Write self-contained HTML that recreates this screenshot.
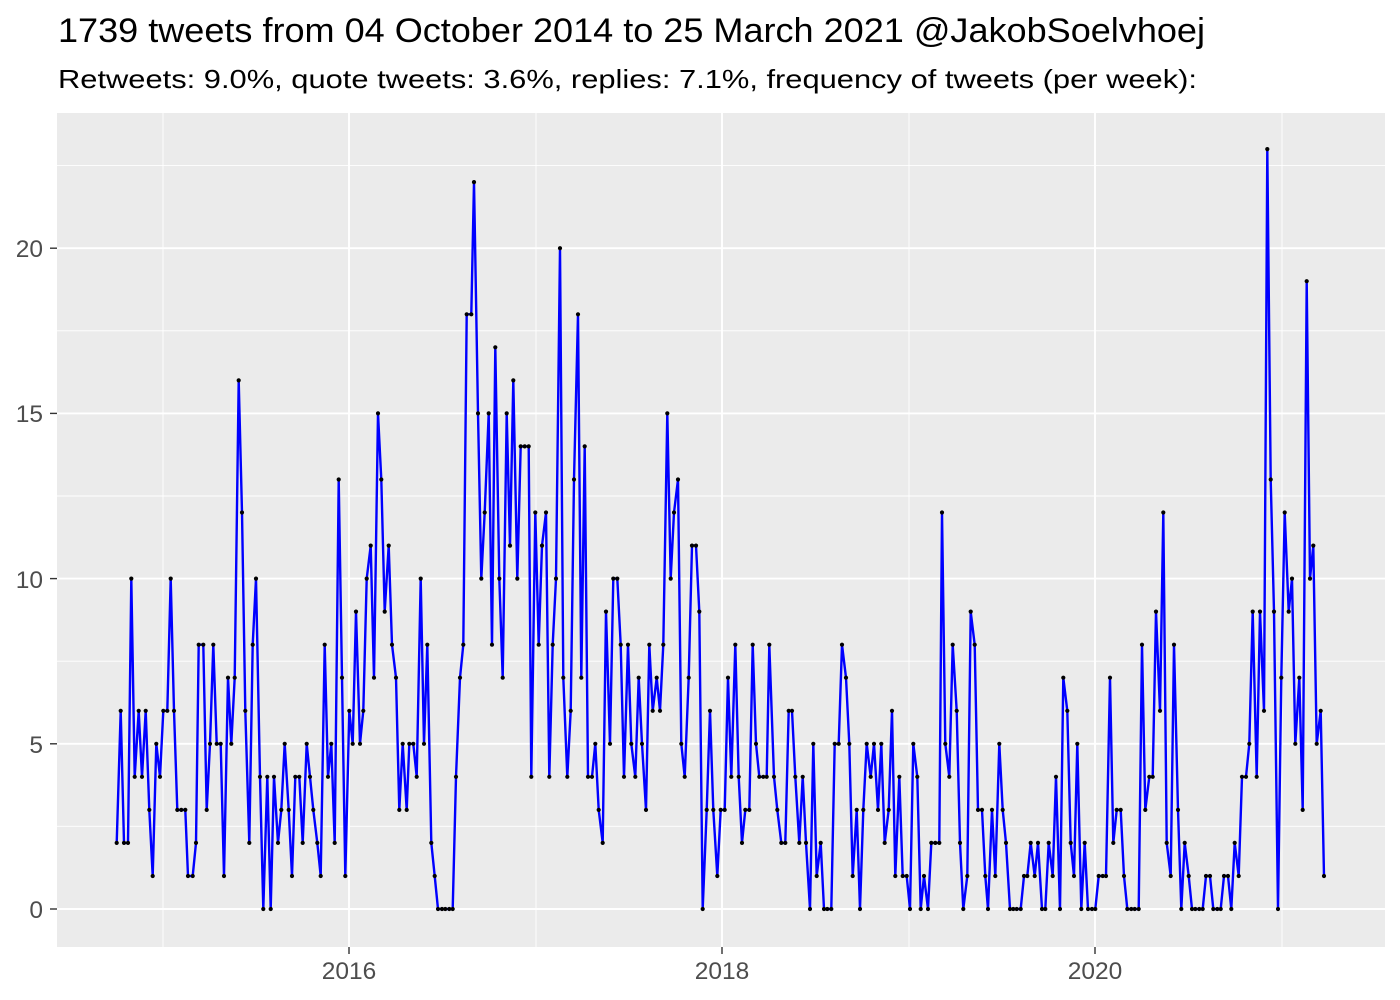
<!DOCTYPE html>
<html><head><meta charset="utf-8"><style>
html,body{margin:0;padding:0;background:#fff;}
svg{display:block;font-family:"Liberation Sans",Arial,sans-serif;}
</style></head><body>
<svg id="s" width="1400" height="1000" viewBox="0 0 1400 1000" xmlns="http://www.w3.org/2000/svg">
<rect width="1400" height="1000" fill="#fff"/>
<text x="58" y="42" font-size="34" fill="#000" textLength="1147" lengthAdjust="spacingAndGlyphs">1739 tweets from 04 October 2014 to 25 March 2021 @JakobSoelvhoej</text>
<text x="58" y="88" font-size="26" fill="#000" textLength="1139" lengthAdjust="spacingAndGlyphs">Retweets: 9.0%, quote tweets: 3.6%, replies: 7.1%, frequency of tweets (per week):</text>
<rect x="57" y="113" width="1328" height="834" fill="#EBEBEB"/>
<g stroke="#fff" stroke-width="0.9">
<line x1="57" x2="1385" y1="826.3" y2="826.3"/><line x1="57" x2="1385" y1="661.2" y2="661.2"/>
<line x1="57" x2="1385" y1="496" y2="496"/><line x1="57" x2="1385" y1="330.8" y2="330.8"/>
<line x1="57" x2="1385" y1="165.6" y2="165.6"/>
<line x1="163" x2="163" y1="113" y2="947"/><line x1="536" x2="536" y1="113" y2="947"/>
<line x1="909" x2="909" y1="113" y2="947"/><line x1="1282" x2="1282" y1="113" y2="947"/>
</g>
<g stroke="#fff" stroke-width="1.9">
<line x1="57" x2="1385" y1="909" y2="909"/><line x1="57" x2="1385" y1="743.8" y2="743.8"/>
<line x1="57" x2="1385" y1="578.6" y2="578.6"/><line x1="57" x2="1385" y1="413.4" y2="413.4"/>
<line x1="57" x2="1385" y1="248.2" y2="248.2"/>
<line x1="349" x2="349" y1="113" y2="947"/><line x1="722" x2="722" y1="113" y2="947"/>
<line x1="1095" x2="1095" y1="113" y2="947"/>
</g>
<g font-size="24.5" fill="#4D4D4D" text-anchor="end">
<text x="43" y="918">0</text><text x="43" y="753">5</text><text x="43" y="588">10</text>
<text x="43" y="422">15</text><text x="43" y="257">20</text>
</g>
<g stroke="#333" stroke-width="1.4">
<line x1="50" x2="57" y1="909" y2="909"/><line x1="50" x2="57" y1="743.8" y2="743.8"/>
<line x1="50" x2="57" y1="578.6" y2="578.6"/><line x1="50" x2="57" y1="413.4" y2="413.4"/>
<line x1="50" x2="57" y1="248.2" y2="248.2"/>
<line x1="349" x2="349" y1="947" y2="954"/><line x1="722" x2="722" y1="947" y2="954"/>
<line x1="1095" x2="1095" y1="947" y2="954"/>
</g>
<g font-size="24.5" fill="#4D4D4D" text-anchor="middle">
<text x="349" y="979">2016</text><text x="722" y="979">2018</text><text x="1095" y="979">2020</text>
</g>
<g id="d"></g>
</svg>
<script>
var segs=[
[100,[[50,2],[62,6],[72,2],[84,2],[94,10],[104,4],[116,6],[126,4],[137,6],[148,3],[158,1],[169,5],[180,4],[190,6],[202,6],[212,10],[222,6],[232,3],[244,3],[256,3],[264,1],[278,1],[288,2],[296,8],[310,8],[320,3],[330,5],[340,8],[350,5],[362,5],[372,1],[384,7],[394,5],[404,7],[416,16],[426,12],[436,6],[448,2],[458,8],[468,10],[480,4],[490,0],[502,4],[512,0],[522,4],[534,2],[544,3],[554,5],[566,3],[576,1],[586,4],[598,4],[608,2],[620,5],[630,4],[640,3],[652,2],[662,1],[674,8],[684,4]]],
[320,[[34,5],[44,2],[56,13],[66,7],[76,1],[88,6],[98,5],[108,9],[120,5],[130,6],[140,10],[152,11],[162,7],[174,15],[184,13],[194,9],[206,11],[216,8],[228,7],[238,3],[248,5],[260,3],[268,5],[280,5],[290,4],[302,10],[312,5],[322,8],[334,2],[344,1],[354,0],[366,0],[376,0],[388,0],[398,0],[408,4],[420,7],[430,8],[440,18],[454,18],[462,22],[474,15],[484,10],[494,12],[506,15],[516,8],[526,17],[538,10],[548,7],[560,15],[570,11],[580,16],[592,10],[602,14],[614,14],[626,14],[634,4],[646,12],[656,8],[666,11],[678,12],[688,4]]],
[540,[[38,8],[48,10],[60,20],[70,7],[82,4],[92,6],[102,13],[114,18],[124,7],[134,14],[144,4],[156,4],[166,5],[176,3],[188,2],[198,9],[210,5],[220,10],[232,10],[242,8],[252,4],[264,8],[274,5],[286,4],[296,7],[306,5],[318,3],[328,8],[338,6],[350,7],[360,6],[370,8],[382,15],[392,10],[402,12],[414,13],[424,5],[434,4],[446,7],[456,11],[468,11],[478,9],[488,0],[500,3],[510,6],[520,3],[532,1],[542,3],[554,3],[564,7],[574,4],[586,8],[596,4],[606,2],[616,3],[628,3],[638,8],[648,5],[658,4],[670,4],[680,4],[688,8]]],
[760,[[42,4],[52,3],[64,2],[76,2],[86,6],[96,6],[106,4],[118,2],[128,4],[138,2],[150,0],[160,5],[170,1],[182,2],[192,0],[202,0],[214,0],[224,5],[236,5],[246,8],[258,7],[268,5],[278,1],[290,3],[300,0],[310,3],[320,5],[332,4],[342,5],[354,3],[364,5],[374,2],[386,3],[396,6],[406,1],[418,4],[428,1],[440,1],[450,0],[460,5],[472,4],[482,0],[492,1],[504,0],[514,2],[526,2],[538,2],[546,12],[556,5],[568,4],[578,8],[590,6],[600,2],[610,0],[622,1],[632,9],[644,8],[654,3],[666,3],[676,1],[684,0]]],
[980,[[36,3],[46,1],[58,5],[68,3],[78,2],[90,0],[100,0],[110,0],[122,0],[132,1],[142,1],[152,2],[164,1],[174,2],[186,0],[196,0],[206,2],[218,1],[228,4],[240,0],[250,7],[262,6],[272,2],[282,1],[292,5],[304,0],[314,2],[324,0],[336,0],[346,0],[356,1],[368,1],[378,1],[390,7],[400,2],[410,3],[422,3],[432,1],[442,0],[454,0],[464,0],[476,0],[486,8],[496,3],[508,4],[518,4],[528,9],[540,6],[550,12],[560,2],[572,1],[582,8],[594,3],[604,0],[614,2],[626,1],[636,0],[646,0],[658,0],[668,0]]],
[1150,[[168,1],[180,1],[190,0],[202,0],[212,0],[222,1],[234,1],[244,0],[254,2],[266,1],[276,4],[288,4],[298,5],[308,9],[320,4],[330,9],[342,6],[352,23],[362,13],[372,9],[384,0],[394,7],[404,12],[416,9],[426,10],[436,5],[448,7],[458,3],[470,19],[480,10],[490,11],[500,5],[512,6],[522,1]]]
];
var pts=[];
segs.forEach(function(s){s[1].forEach(function(p){pts.push([s[0]+p[0]/3,909-p[1]*33.04]);});});
var ns="http://www.w3.org/2000/svg",g=document.getElementById("d");
var pl=document.createElementNS(ns,"polyline");
pl.setAttribute("points",pts.map(function(p){return p[0].toFixed(1)+","+p[1].toFixed(1);}).join(" "));
pl.setAttribute("fill","none");pl.setAttribute("stroke","#0000FF");pl.setAttribute("stroke-width","2.4");pl.setAttribute("stroke-linejoin","round");
g.appendChild(pl);
pts.forEach(function(p){var c=document.createElementNS(ns,"circle");c.setAttribute("cx",p[0].toFixed(1));c.setAttribute("cy",p[1].toFixed(1));c.setAttribute("r","2.1");c.setAttribute("fill","#000");g.appendChild(c);});
</script>
</body></html>
